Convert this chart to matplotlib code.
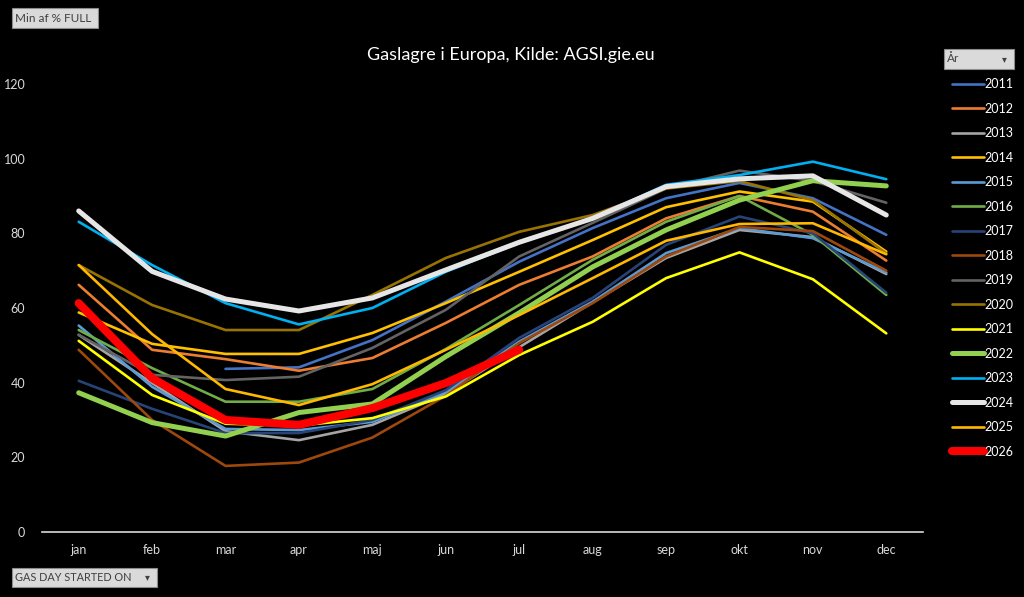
import numpy as np
import matplotlib
matplotlib.use('Agg')
import matplotlib.pyplot as plt
from matplotlib.patches import FancyBboxPatch

plt.rcParams['font.family'] = ['Lato', 'DejaVu Sans']

nan = np.nan

# Måneder
maaneder = ['jan', 'feb', 'mar', 'apr', 'maj', 'jun', 'jul', 'aug', 'sep', 'okt', 'nov', 'dec']

# Min af % FULL pr. år
y2011 = [nan, nan, 43.7, 44.1, 51.4, 61.7, 72.4, 81.4, 89.4, 93.5, 89.4, 79.6]
y2012 = [66.2, 48.8, 46.3, 43.2, 46.6, 56.0, 66.2, 73.8, 84.0, 90.0, 85.8, 72.7]
y2013 = [52.8, 39.9, 27.0, 24.6, 28.7, 37.0, 49.5, 61.5, 73.4, 80.9, 79.0, 69.1]
y2014 = [58.8, 50.4, 47.7, 47.7, 53.3, 61.3, 69.7, 78.2, 87.0, 91.2, 88.5, 75.1]
y2015 = [55.3, 38.9, 27.6, 27.3, 29.5, 37.5, 51.0, 61.7, 74.7, 81.4, 78.7, 69.5]
y2016 = [54.1, 43.9, 34.9, 34.9, 38.3, 49.0, 60.8, 72.9, 83.1, 90.0, 79.6, 63.5]
y2017 = [40.5, 33.0, 26.5, 26.5, 30.0, 38.0, 52.0, 62.7, 76.9, 84.5, 80.0, 64.1]
y2018 = [48.8, 30.0, 17.7, 18.6, 25.3, 36.5, 50.6, 61.3, 73.8, 81.7, 80.6, 70.0]
y2019 = [52.8, 42.1, 40.7, 41.6, 49.3, 59.5, 73.8, 82.8, 92.0, 96.8, 94.0, 88.2]
y2020 = [71.5, 60.8, 54.1, 54.1, 63.5, 73.4, 80.4, 84.9, 92.0, 94.0, 88.9, 74.6]
y2021 = [51.2, 36.7, 29.0, 28.5, 30.5, 36.3, 47.4, 56.3, 68.0, 74.9, 67.7, 53.2]
y2022 = [37.3, 29.3, 25.7, 32.0, 34.3, 47.0, 58.7, 71.0, 80.9, 88.9, 94.1, 92.7]
y2023 = [83.1, 71.5, 61.3, 55.6, 60.0, 69.7, 77.5, 84.0, 93.0, 95.6, 99.2, 94.5]
y2024 = [86.0, 69.8, 62.4, 59.2, 62.7, 70.2, 77.6, 84.0, 92.5, 94.6, 95.4, 84.9]
y2025 = [71.5, 53.0, 38.3, 34.0, 39.6, 48.8, 58.1, 68.0, 78.0, 82.5, 82.7, 74.4]
y2026 = [61.3, 41.2, 30.0, 28.7, 33.2, 39.9, 48.8, nan, nan, nan, nan, nan]

aar = ['2011', '2012', '2013', '2014', '2015', '2016', '2017', '2018',
       '2019', '2020', '2021', '2022', '2023', '2024', '2025', '2026']
serier = [y2011, y2012, y2013, y2014, y2015, y2016, y2017, y2018,
          y2019, y2020, y2021, y2022, y2023, y2024, y2025, y2026]

farver = ['#4472C4', '#ED7D31', '#A5A5A5', '#FFC000', '#5B9BD5', '#70AD47',
          '#264478', '#9E480E', '#636363', '#997300', '#FFFF00', '#92D050',
          '#00B0F0', '#E6E6E6', '#FFB800', '#FF0000']
bredder = {'2022': 3.6, '2024': 3.6, '2026': 5.8}

fig = plt.figure(figsize=(10.24, 5.97), dpi=100, facecolor='black')
ax = fig.add_axes([42 / 1024, 1 - 532 / 597, 881 / 1024, 448 / 597])
ax.set_facecolor('black')

x = np.arange(len(maaneder))
for navn, y, farve in zip(aar, serier, farver):
    ax.plot(x, y, color=farve, lw=bredder.get(navn, 1.9), label=navn,
            solid_capstyle='round', solid_joinstyle='round')

ax.set_xlim(-0.5, 11.5)
ax.set_ylim(0, 120)
ax.set_yticks(np.arange(0, 121, 20))
ax.set_xticks(x)
ax.set_xticklabels(maaneder)
ax.tick_params(colors='#D9D9D9', labelsize=9, length=0)
ax.tick_params(axis='y', pad=12)
ax.tick_params(axis='x', pad=9)
for side in ['top', 'right', 'left']:
    ax.spines[side].set_visible(False)
ax.spines['bottom'].set_color('#D9D9D9')
ax.spines['bottom'].set_linewidth(1.2)

fig.text(511 / 1024, 1 - 55 / 597, 'Gaslagre i Europa, Kilde: AGSI.gie.eu',
         color='white', fontsize=13, ha='center', va='center')

# Legende
leg = ax.legend(loc='upper left', bbox_to_anchor=(946 / 1024, 1 - 72 / 597),
                bbox_transform=fig.transFigure, frameon=False, fontsize=9,
                labelcolor='white', handlelength=2.5, handletextpad=0.1,
                labelspacing=1.0, borderpad=0)


# Knapper (pivot-felter)
def knap(x0, y0, w, h, tekst, pil=False, str=8.5):
    boks = FancyBboxPatch((x0 / 1024, 1 - (y0 + h) / 597), w / 1024, h / 597,
                          boxstyle='square,pad=0', transform=fig.transFigure,
                          facecolor='#DADADA', edgecolor='#8C8C8C', lw=0.8)
    fig.add_artist(boks)
    fig.text((x0 + 3) / 1024, 1 - (y0 + h / 2) / 597, tekst, color='#404040',
             fontsize=str, ha='left', va='center')
    if pil:
        fig.text((x0 + w - 10) / 1024, 1 - (y0 + h / 2) / 597, '▾',
                 color='#404040', fontsize=7, ha='center', va='center',
                 family=['DejaVu Sans'])


knap(12, 8, 86, 20, 'Min af % FULL')
knap(12, 568, 145, 19, 'GAS DAY STARTED ON', pil=True, str=7.8)
knap(944, 49, 70, 20, 'År', pil=True)

plt.savefig('out.png', dpi=100, facecolor='black')
